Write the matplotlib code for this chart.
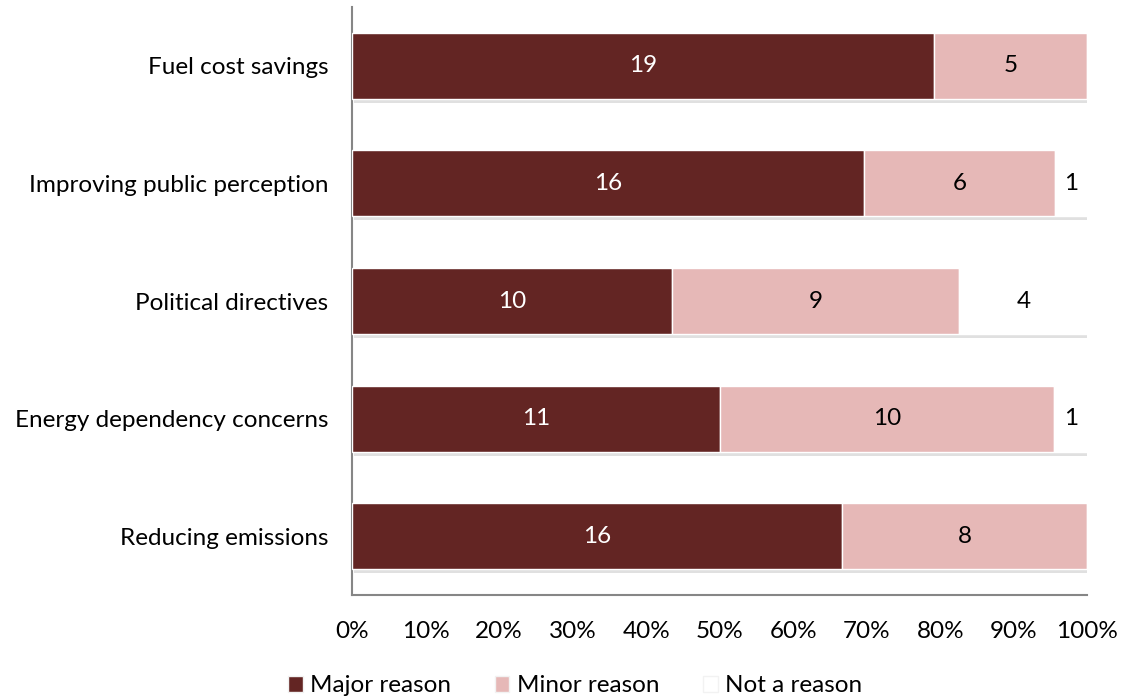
import numpy as np
import matplotlib.pyplot as plt
import matplotlib.patheffects as pe
from matplotlib.ticker import PercentFormatter

plt.rcParams['font.family'] = ['Lato', 'DejaVu Sans']

categories = ['Fuel cost savings', 'Improving public perception', 'Political directives',
              'Energy dependency concerns', 'Reducing emissions']
major = [19, 16, 10, 11, 16]
minor = [5, 6, 9, 10, 8]
not_reason = [0, 1, 4, 1, 0]
series = [('Major reason', major, '#632523', 'white'),
          ('Minor reason', minor, '#E6B8B7', 'black'),
          ('Not a reason', not_reason, '#FFFFFF', 'black')]

tot = np.array(major) + np.array(minor) + np.array(not_reason)
y = np.arange(len(categories))[::-1]
fs = 17.5

fig = plt.figure(figsize=(11.21, 7), dpi=100)
ax = fig.add_axes([0.314, 0.15, 0.656, 0.84])

shadow = [pe.SimplePatchShadow(offset=(1.5, -3), shadow_rgbFace='#999999', alpha=0.3), pe.Normal()]
left = np.zeros(len(categories))
for name, vals, col, tcol in series:
    frac = np.array(vals) / tot
    bars = ax.barh(y, frac, left=left, height=0.56, color=col, edgecolor='white',
                   linewidth=1, label=name, zorder=3)
    for b in bars:
        b.set_path_effects(shadow)
    for yi, l, f, v in zip(y, left, frac, vals):
        if v > 0:
            ax.text(l + f / 2, yi, str(v), ha='center', va='center', color=tcol, fontsize=fs, zorder=4)
    left += frac

ax.set_xlim(0, 1)
ax.set_ylim(-0.5, 4.5)
ax.set_yticks(y)
ax.set_yticklabels(categories, fontsize=fs)
ax.set_xticks(np.arange(0, 1.01, 0.1))
ax.xaxis.set_major_formatter(PercentFormatter(1.0, decimals=0))
ax.tick_params(axis='x', length=0, labelsize=fs, pad=19)
ax.tick_params(axis='y', length=0, pad=17)
for s in ['top', 'right']:
    ax.spines[s].set_visible(False)
ax.spines['left'].set_color('#868686')
ax.spines['bottom'].set_color('#868686')
ax.spines['left'].set_linewidth(1.5)
ax.spines['bottom'].set_linewidth(1.5)

h, l = ax.get_legend_handles_labels()
leg = fig.legend(h, l, loc='center', bbox_to_anchor=(0.513, 0.02), ncol=3, frameon=False,
                 fontsize=fs, handlelength=0.6, handleheight=0.6, handletextpad=0.3, columnspacing=1.8)
for p in leg.get_patches():
    p.set_edgecolor('#F2F2F2')
    p.set_path_effects([])

fig.savefig('out.png', dpi=100)
